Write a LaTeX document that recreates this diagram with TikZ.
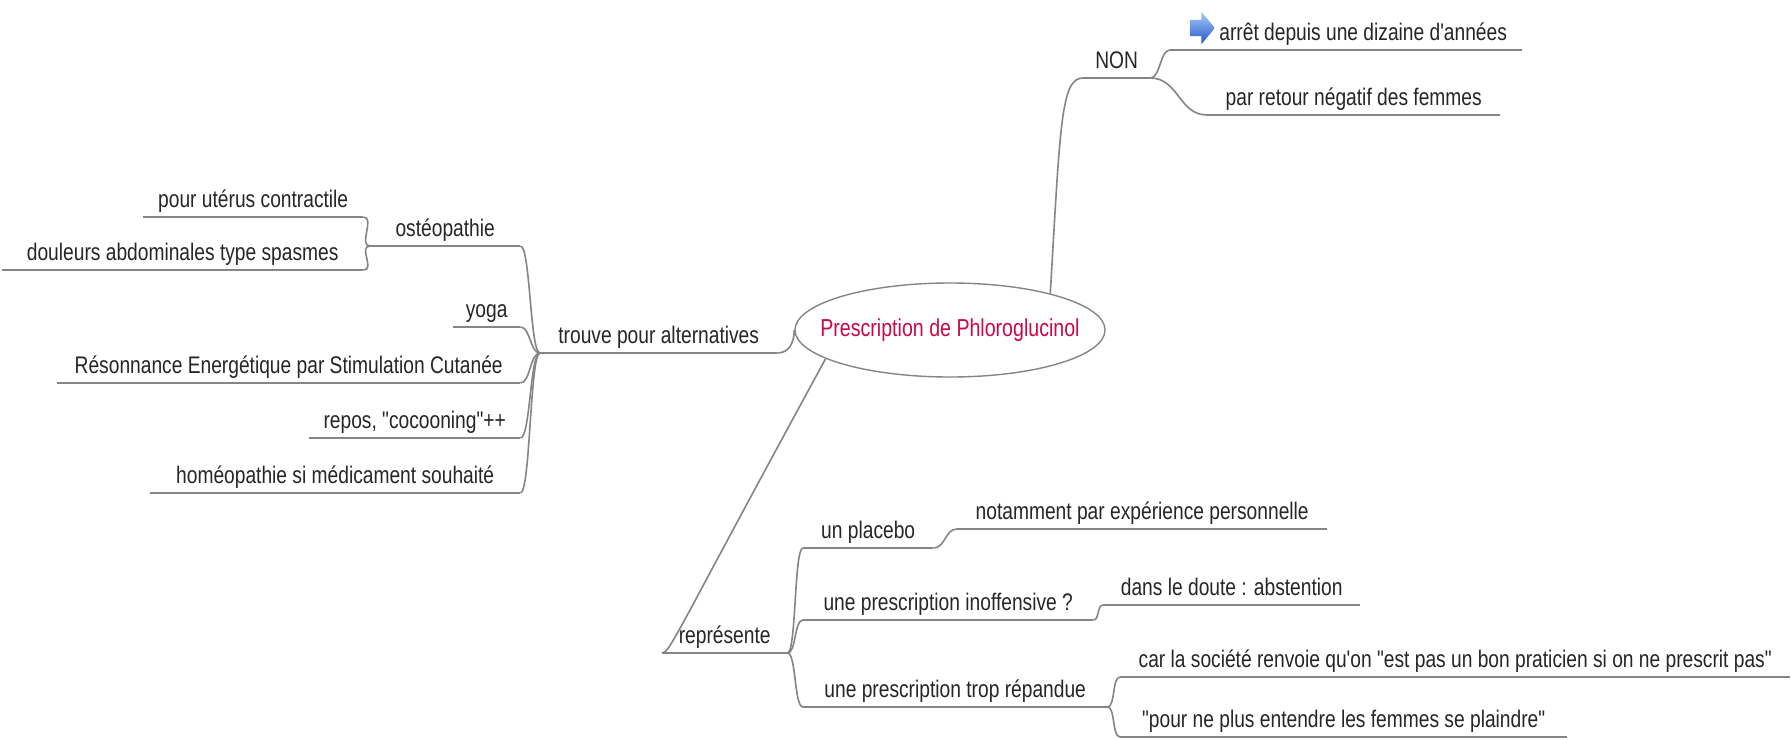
\documentclass[tikz,border=0pt]{standalone}
\usepackage{fontspec}
\setmainfont{Liberation Sans}[FakeStretch=0.8, Ligatures=TeXOff]
\usetikzlibrary{shapes.geometric,shapes.arrows}

\newcommand\mapfont{\fontsize{24pt}{28pt}\selectfont}

\begin{document}
\begin{tikzpicture}[
        x=1pt, y=-1pt,
        branch/.style={draw=linegray, line width=1.6pt},
        topic/.style={anchor=south west, inner xsep=0pt, inner ysep=4pt,
            text height=17pt, text depth=5pt, font=\mapfont, text=black!85}
    ]
    \colorlet{linegray}{black!48}
    \definecolor{crim}{RGB}{200,10,70}
    \definecolor{icontop}{RGB}{170,205,250}
    \definecolor{iconbot}{RGB}{35,85,200}

    \fill[white] (0,0) rectangle (1791,739);
    \useasboundingbox (0,0) rectangle (1791,739);

    \node (cent) [ellipse, draw=linegray, line width=1.4pt, minimum width=306pt,
        minimum height=94pt, inner xsep=-20pt, inner ysep=0pt, text=crim,
        font=\fontsize{24.5pt}{28pt}\selectfont] at (950,330) {Prescription de Phloroglucinol};

    \begin{scope}[every node/.style={topic}]
        \node (non)         [minimum width=67pt]  at (1083,78)  {NON};
        \node (arret)       [minimum width=352pt] at (1170,50)  {\hspace{34pt}arrêt depuis une dizaine d'années};
        \node (retour)      [minimum width=293pt] at (1207,115) {par retour négatif des femmes};

        \node (trouve)      [minimum width=237pt] at (540,353)  {trouve pour alternatives};
        \node (osteo)       [minimum width=150pt] at (370,246)  {ostéopathie\hspace{50pt}};
        \node (uterus)      [minimum width=220pt] at (143,217)  {pour utérus contractile};
        \node (douleurs)    [minimum width=361pt] at (2,270)    {douleurs abdominales type spasmes};
        \node (yoga)        [minimum width=67pt]  at (453,327)  {yoga};
        \node (resonance)   [minimum width=463pt] at (57,383)   {Résonnance Energétique par Stimulation Cutanée};
        \node (repos)       [minimum width=211pt] at (309,438)  {repos, "cocooning"++};
        \node (homeo)       [minimum width=370pt] at (150,493)  {homéopathie si médicament souhaité};

        \node (represente)  [minimum width=125pt] at (662,653)  {représente};
        \node (placebo)     [minimum width=130pt] at (803,548)  {un placebo};
        \node (notamment)   [minimum width=370pt] at (957,529)  {notamment par expérience personnelle};
        \node (inoffensive) [minimum width=290pt] at (803,620)  {une prescription inoffensive ?};
        \node (doute)       [minimum width=257pt] at (1103,605) {dans le doute : abstention};
        \node (repandue)    [minimum width=304pt] at (803,707)  {une prescription trop répandue};
        \node (societe)     [minimum width=670pt] at (1120,677) {car la société renvoie qu'on "est pas un bon praticien si on ne prescrit pas"};
        \node (plaindre)    [minimum width=447pt] at (1120,737) {"pour ne plus entendre les femmes se plaindre"};
    \end{scope}

    \node (icon) [single arrow, minimum height=25pt, inner xsep=0pt, inner ysep=8pt,
        single arrow head extend=8pt, single arrow tip angle=100,
        top color=icontop, bottom color=iconbot] at (1199,28) {};

    \foreach \t in {non,arret,retour,trouve,osteo,uterus,douleurs,yoga,resonance,repos,homeo,
                    represente,placebo,notamment,inoffensive,doute,repandue,societe,plaindre}
        \draw[branch] (\t.south west) -- (\t.south east);

    \draw[branch] (cent.20.7) .. controls +(10,-170) and +(-22,0) .. (non.south west);
    \draw[branch] (non.south east) .. controls +(10,0) and +(-10,0) .. (arret.south west);
    \draw[branch] (non.south east) .. controls +(28,0) and +(-28,0) .. (retour.south west);

    \draw[branch] (cent.west) .. controls +(0,12) and +(12,0) .. (trouve.south east);
    \foreach \t in {osteo,yoga,resonance,repos,homeo}
        \draw[branch] (trouve.south west) .. controls +(-10,0) and +(10,0) .. (\t.south east);
    \foreach \t in {uterus,douleurs}
        \draw[branch] (osteo.south west) .. controls +(-12,0) and +(12,0) .. (\t.south east);

    \draw[branch] (cent.193) .. controls +(-150,275) and +(8,0) .. (represente.south west);
    \foreach \t in {placebo,inoffensive,repandue}
        \draw[branch] (represente.south east) .. controls +(9,0) and +(-9,0) .. (\t.south west);
    \draw[branch] (placebo.south east) .. controls +(12,0) and +(-12,0) .. (notamment.south west);
    \draw[branch] (inoffensive.south east) .. controls +(6,0) and +(-6,0) .. (doute.south west);
    \foreach \t in {societe,plaindre}
        \draw[branch] (repandue.south east) .. controls +(8,0) and +(-8,0) .. (\t.south west);
\end{tikzpicture}
\end{document}
